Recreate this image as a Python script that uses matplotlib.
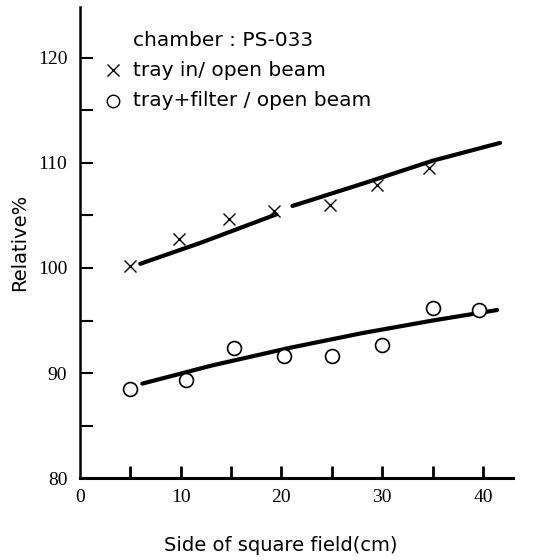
import matplotlib
matplotlib.use("Agg")
import matplotlib.pyplot as plt
import numpy as np

# data
tray_x = [5.0, 9.8, 14.8, 19.3, 24.8, 29.5, 34.7]
tray_y = [100.2, 102.8, 104.7, 105.4, 106.0, 107.9, 109.5]
filt_x = [5.0, 10.5, 15.3, 20.3, 25.0, 30.0, 35.0, 39.6]
filt_y = [88.5, 89.3, 92.4, 91.6, 91.6, 92.7, 96.2, 96.0]

# hand-drawn fit curves
fit1a_x = [6.0, 12.0, 19.5]
fit1a_y = [100.4, 102.4, 105.1]
fit1b_x = [21.1, 28.0, 35.0, 41.7]
fit1b_y = [105.9, 108.0, 110.2, 111.9]
fit2_x = [6.2, 13.0, 20.8, 28.0, 35.0, 41.4]
fit2_y = [89.0, 90.7, 92.4, 93.8, 95.0, 96.0]

xtick_labels = ["0", "10", "20", "30", "40"]
ytick_labels = ["80", "90", "100", "110", "120"]

serif = "Liberation Serif"
sans = "DejaVu Sans"

fig = plt.figure(figsize=(5.43, 5.60), dpi=100)
ax = fig.add_axes([0.147, 0.146, 0.798, 0.841])
ax.set_xlim(0, 43)
ax.set_ylim(80, 124.8)

for s in ["top", "right"]:
    ax.spines[s].set_visible(False)
ax.spines["left"].set_linewidth(1.8)
ax.spines["bottom"].set_linewidth(2.2)

ax.set_xticks([0, 10, 20, 30, 40])
ax.set_xticklabels(xtick_labels, fontfamily=serif, fontsize=14)
ax.set_xticks([5, 15, 25, 35], minor=True)
ax.set_yticks([80, 90, 100, 110, 120])
ax.set_yticklabels(ytick_labels, fontfamily=serif, fontsize=14)
ax.set_yticks([85, 95, 105, 115], minor=True)
ax.tick_params(axis="x", which="both", direction="in", length=9, width=2, pad=8)
ax.tick_params(axis="y", which="both", direction="in", length=9, width=1.5, pad=9)
ax.xaxis.get_major_ticks()[0].tick1line.set_visible(False)
ax.yaxis.get_major_ticks()[0].tick1line.set_visible(False)

ax.plot(fit1a_x, fit1a_y, color="black", lw=3, solid_capstyle="round")
ax.plot(fit1b_x, fit1b_y, color="black", lw=3, solid_capstyle="round")
ax.plot(fit2_x, fit2_y, color="black", lw=3, solid_capstyle="round")

ax.plot(tray_x, tray_y, linestyle="none", marker="x", markersize=9,
        markeredgewidth=1.0, color="black")
ax.plot(filt_x, filt_y, linestyle="none", marker="o", markersize=10,
        markeredgewidth=1.2, markerfacecolor="white", markeredgecolor="black")

fs = 14.5
ax.text(5.3, 121.6, "chamber : PS-033", fontfamily=sans, fontsize=fs, va="center")
ax.plot([3.3], [118.8], linestyle="none", marker="x", markersize=9, markeredgewidth=1.0, color="black")
ax.text(5.3, 118.8, "tray in/ open beam", fontfamily=sans, fontsize=fs, va="center")
ax.plot([3.3], [115.9], linestyle="none", marker="o", markersize=9, markeredgewidth=1.0,
        markerfacecolor="white", markeredgecolor="black")
ax.text(5.3, 115.9, "tray+filter / open beam", fontfamily=sans, fontsize=fs, va="center")

ax.set_ylabel("Relative%", fontfamily=sans, fontsize=14, labelpad=6)
ax.set_xlabel("Side of square field(cm)", fontfamily=sans, fontsize=14)
ax.xaxis.set_label_coords(0.464, -0.123)

fig.savefig("out.png", dpi=100)
